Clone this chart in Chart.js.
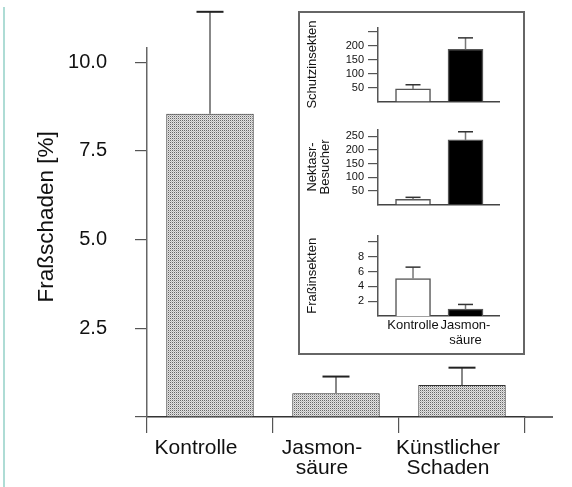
<!DOCTYPE html>
<html>
<head>
<meta charset="utf-8">
<script src="https://cdn.jsdelivr.net/npm/chart.js@4/dist/chart.umd.min.js"></script>
<style>
    body { margin: 0; background: #fff; }
    .rand { position: absolute; left: 3px; top: 7px; width: 2px; height: 480px; background: #aedcd5; }
    .einschub { position: absolute; left: 298px; top: 11px; width: 227px; height: 344px; box-sizing: border-box; border: 2px solid #666; background: #fff; }
    canvas { position: absolute; }
</style>
</head>
<body>
<div class="rand"></div>
<canvas id="hauptGrafik" width="572" height="487" style="left:0;top:0;width:572px;height:487px"></canvas>
<div class="einschub"></div>
<canvas id="grafikSchutz" width="215" height="95" style="left:300px;top:17px;width:215px;height:95px"></canvas>
<canvas id="grafikNektar" width="215" height="96" style="left:300px;top:119px;width:215px;height:96px"></canvas>
<canvas id="grafikFrass" width="215" height="127" style="left:300px;top:225px;width:215px;height:127px"></canvas>
<script>
// Hauptgrafik: Fraßschaden
var kategorien = ['Kontrolle', ['Jasmon-', 'säure'], ['Künstlicher', 'Schaden']];
var frassschaden = [8.55, 0.67, 0.90];
var frassschadenFehler = [2.87, 0.47, 0.49];
var hauptTicks = [0, 2.5, 5, 7.5, 10];

// Einschub
var einschubKategorien = ['Kontrolle', ['Jasmon-', 'säure']];
var schutzinsekten = [45, 188];
var schutzFehler = [15, 41];
var schutzTicks = [50, 100, 150, 200, 250];
var schutzOhneText = [250];

var nektarBesucher = [19, 237];
var nektarFehler = [7, 30];
var nektarTicks = [50, 100, 150, 200, 250];
var nektarOhneText = [];

var frassinsekten = [5.05, 0.93];
var frassFehler = [1.55, 0.63];
var frassTicks = [2, 4, 6, 8, 10];
var frassOhneText = [10];

Chart.defaults.font.family = '"Liberation Sans", Arial, sans-serif';
Chart.defaults.color = '#111';
Chart.defaults.animation = false;

var fehlerbalken = {
    id: 'fehlerbalken',
    afterDatasetsDraw: function (chart, args, opts) {
        var ctx = chart.ctx;
        var yScale = chart.scales.y;
        chart.data.datasets.forEach(function (ds, i) {
            var meta = chart.getDatasetMeta(i);
            meta.data.forEach(function (bar, j) {
                var punkt = ds.data[j];
                var wert = (typeof punkt === 'object') ? punkt.y : punkt;
                var oben = yScale.getPixelForValue(wert + ds.fehler[j]);
                ctx.save();
                ctx.lineWidth = opts.breite;
                ctx.strokeStyle = opts.stiel;
                ctx.beginPath();
                ctx.moveTo(bar.x, bar.y);
                ctx.lineTo(bar.x, oben);
                ctx.stroke();
                ctx.strokeStyle = opts.kappe;
                ctx.beginPath();
                ctx.moveTo(bar.x - opts.kappeBreite / 2, oben);
                ctx.lineTo(bar.x + opts.kappeBreite / 2, oben);
                ctx.stroke();
                ctx.restore();
            });
        });
    }
};

// x-Achse läuft rechts etwas über den letzten Strich hinaus
var achsenVerlaengerung = {
    id: 'achsenVerlaengerung',
    afterDraw: function (chart, args, opts) {
        var ctx = chart.ctx;
        var a = chart.chartArea;
        ctx.save();
        ctx.strokeStyle = '#333';
        ctx.lineWidth = 1.5;
        ctx.beginPath();
        ctx.moveTo(a.right, a.bottom);
        ctx.lineTo(a.right + opts.laenge, a.bottom);
        ctx.stroke();
        ctx.restore();
    }
};

function PunktMuster() {
    var c = document.createElement('canvas');
    c.width = 2;
    c.height = 2;
    var g = c.getContext('2d');
    g.fillStyle = '#e2e2e2';
    g.fillRect(0, 0, 2, 2);
    g.fillStyle = '#666666';
    g.fillRect(0, 0, 1, 1);
    g.fillStyle = '#bcbcbc';
    g.fillRect(1, 1, 1, 1);
    return g.createPattern(c, 'repeat');
}

new Chart(document.getElementById('hauptGrafik'), {
    type: 'bar',
    data: {
        labels: kategorien,
        datasets: [{
            label: 'Fraßschaden',
            data: frassschaden,
            fehler: frassschadenFehler,
            backgroundColor: PunktMuster(),
            borderColor: '#333',
            borderWidth: 1,
            barPercentage: 0.78,
            categoryPercentage: 0.89
        }]
    },
    options: {
        responsive: false,
        layout: { padding: { left: 25, top: 48, right: 47, bottom: 0 } },
        plugins: {
            legend: { display: false },
            tooltip: { enabled: false },
            fehlerbalken: { breite: 2, stiel: '#888', kappe: '#222', kappeBreite: 27 },
            achsenVerlaengerung: { laenge: 28 }
        },
        scales: {
            x: {
                grid: { offset: true, drawOnChartArea: false, drawTicks: true, tickLength: 16, color: '#555', lineWidth: 1.2 },
                border: { display: true, color: '#333', width: 1.5 },
                ticks: {
                    font: { size: 21, lineHeight: 0.95 },
                    padding: 5,
                    labelOffset: -14,
                    maxRotation: 0,
                    autoSkip: false
                },
                afterFit: function (scale) { scale.height = 70; }
            },
            y: {
                min: 0,
                max: 10.4,
                afterBuildTicks: function (scale) {
                    scale.ticks = hauptTicks.map(function (v) { return { value: v }; });
                },
                grid: { drawOnChartArea: false, drawTicks: true, tickLength: 12, color: '#555', lineWidth: 1.2 },
                border: { display: true, color: '#666', width: 1.5 },
                ticks: {
                    font: { size: 20 },
                    padding: 28,
                    callback: function (v) { return v === 0 ? '' : v.toFixed(1); }
                },
                title: {
                    display: true,
                    // führende Leerzeichen schieben den Titel etwas nach oben, wie im Original
                    text: '     Fraßschaden [%]',
                    font: { size: 22.5 },
                    padding: { top: 8, bottom: 0 }
                },
                afterFit: function (scale) { scale.width = 122; }
            }
        }
    },
    plugins: [fehlerbalken, achsenVerlaengerung]
});

function EinschubGrafik(id, titel, werte, fehler, ticks, ohneText, maximum, mitBeschriftung) {
    var punkte = [];
    var indice = 0;
    while (indice < werte.length) {
        punkte.push({ x: indice, y: werte[indice] });
        indice++;
    }

    return new Chart(document.getElementById(id), {
        type: 'bar',
        data: {
            datasets: [{
                label: titel,
                data: punkte,
                fehler: fehler,
                backgroundColor: ['#ffffff', '#000000'],
                borderColor: '#555',
                borderWidth: 1.5,
                barThickness: 35
            }]
        },
        options: {
            responsive: false,
            layout: { padding: { left: 0, top: 10, right: 16, bottom: mitBeschriftung ? 0 : 4 } },
            plugins: {
                legend: { display: false },
                tooltip: { enabled: false },
                fehlerbalken: { breite: 1.5, stiel: '#777', kappe: '#333', kappeBreite: 15 }
            },
            scales: {
                x: {
                    type: 'linear',
                    offset: false,
                    bounds: 'data',
                    min: -0.667,
                    max: 1.638,
                    afterBuildTicks: function (scale) {
                        scale.ticks = einschubKategorien.map(function (k, i) { return { value: i }; });
                    },
                    grid: { display: false, drawTicks: false, offset: false },
                    border: { display: true, color: '#444', width: 1.5 },
                    ticks: {
                        display: mitBeschriftung,
                        font: { size: 13, lineHeight: 1.15 },
                        padding: 2,
                        maxRotation: 0,
                        callback: function (v) { return einschubKategorien[v]; }
                    },
                    afterFit: function (scale) { scale.height = mitBeschriftung ? 36 : 0; }
                },
                y: {
                    min: 0,
                    max: maximum,
                    afterBuildTicks: function (scale) {
                        scale.ticks = ticks.map(function (v) { return { value: v }; });
                    },
                    grid: { drawOnChartArea: false, drawTicks: true, tickLength: 10, color: '#555', lineWidth: 1.2 },
                    border: { display: true, color: '#555', width: 1.5 },
                    ticks: {
                        font: { size: 11 },
                        padding: 4,
                        callback: function (v) { return ohneText.indexOf(v) >= 0 ? '' : String(v); }
                    },
                    title: {
                        display: true,
                        text: titel,
                        font: { size: 13, lineHeight: 1.0 },
                        padding: { top: 6, bottom: 0 }
                    },
                    afterFit: function (scale) { scale.width = 78; }
                }
            }
        },
        plugins: [fehlerbalken]
    });
}

EinschubGrafik('grafikSchutz', 'Schutzinsekten', schutzinsekten, schutzFehler, schutzTicks, schutzOhneText, 266, false);
EinschubGrafik('grafikNektar', ['Nektasr-', 'Besucher'], nektarBesucher, nektarFehler, nektarTicks, nektarOhneText, 275, false);
EinschubGrafik('grafikFrass', 'Fraßinsekten', frassinsekten, frassFehler, frassTicks, frassOhneText, 10.86, true);
</script>
</body>
</html>
